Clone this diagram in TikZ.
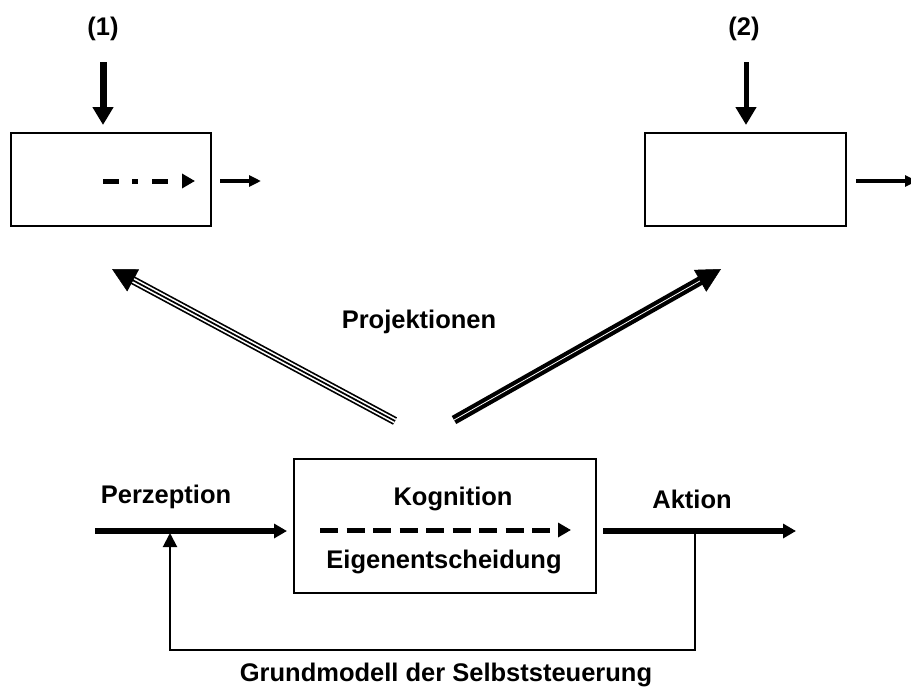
\documentclass[tikz,border=0pt]{standalone}
\usepackage{fontspec}
\setmainfont{Liberation Sans}
\usetikzlibrary{arrows.meta,calc}
\begin{document}
\begin{tikzpicture}[x=1pt,y=-1pt,
  lbl/.style={font=\fontsize{25.5}{30}\selectfont\bfseries, anchor=base, inner sep=0pt},
  boxnode/.style={draw, line width=1.8pt, inner sep=0pt},
  flowarrow/.style={line width=6pt, -{Triangle[length=13pt,width=14pt]}},
  smallarrow/.style={line width=4.5pt, -{Triangle[length=12pt,width=11pt]}},
  downarrow/.style={-{Triangle[length=18pt,width=20pt]}},
  projhead/.style={line width=0.5pt, -{Triangle[length=24pt,width=25pt]}},
  tripleline/.style={line width=1.7pt, double=white, double distance=5pt},
  centerline/.style={line width=1.7pt},
  thickline/.style={line width=4.2pt, double=white, double distance=0.8pt},
  fbline/.style={line width=2pt, -{Triangle[length=14pt,width=14pt]}}]
\useasboundingbox (0,0) rectangle (911,688);

% boxes
\node[boxnode, minimum width=200pt, minimum height=93pt] (b1) at (111,179.5) {};
\node[boxnode, minimum width=201pt, minimum height=93pt] (b2) at (745.5,179.5) {};
\node[boxnode, minimum width=302pt, minimum height=134pt] (kb) at (445,526) {};

% labels
\node[lbl] (l1) at (103,35) {(1)};
\node[lbl] (l2) at (744,35) {(2)};
\node[lbl] (proj) at (419,328) {Projektionen};
\node[lbl] (perz) at (166,503) {Perzeption};
\node[lbl] (akt) at (692,508) {Aktion};
\node[lbl] (kog) at (453,505) {Kognition};
\node[lbl] (eig) at (444,568) {Eigenentscheidung};
\node[lbl] (grund) at (446,681) {Grundmodell der Selbststeuerung};

% top arrows into boxes
\coordinate (d1s) at (103,62);
\coordinate (d1e) at (103,125);
\coordinate (d2s) at (746,62);
\coordinate (d2e) at (746,125);
\draw[downarrow, line width=7pt] (d1s) -- (d1e);
\draw[downarrow, line width=5pt] (d2s) -- (d2e);

% inside box 1 dash-dot arrow
\coordinate (i1s) at (103,181);
\coordinate (i1e) at (195,181);
\draw[line width=5pt, dash pattern=on 16pt off 13pt on 6pt off 14pt on 16pt off 40pt,
  -{Triangle[length=13pt,width=14pt]}] (i1s) -- (i1e);

% small output arrows
\coordinate (o1s) at (220,181);
\coordinate (o1e) at (261,181);
\draw[smallarrow] (o1s) -- (o1e);
\coordinate (o2s) at (856,181);
\coordinate (o2e) at (917,181);
\draw[smallarrow] (o2s) -- (o2e);

% projection arrows
\coordinate (ls) at (395,421);
\coordinate (lt) at (112,269);
\coordinate (lb) at ($(lt)!23pt!(ls)$);
\draw[tripleline] (ls) -- (lb);
\draw[centerline] (ls) -- (lb);
\draw[projhead] (lb) -- (lt);

\coordinate (rs) at (454,420);
\coordinate (rt) at (721,269);
\coordinate (rb) at ($(rt)!23pt!(rs)$);
\draw[thickline] (rs) -- (rb);
\draw[projhead] (rb) -- (rt);

% main flow
\coordinate (ps) at (95,531);
\coordinate (pe) at (287,531);
\draw[flowarrow] (ps) -- (pe);
\coordinate (as) at (603,531);
\coordinate (ae) at (796,531);
\draw[flowarrow] (as) -- (ae);

% dashed arrow inside central box
\coordinate (cs) at (320,530);
\coordinate (ce) at (571,530);
\draw[line width=5pt, dash pattern=on 18pt off 8.5pt,
  -{Triangle[length=13pt,width=14pt]}] (cs) -- (ce);

% feedback
\coordinate (fs) at (695,531);
\coordinate (fc) at (170,650);
\coordinate (fe) at (170,533);
\draw[fbline] (fs) |- (fc) -- (fe);
\end{tikzpicture}
\end{document}
